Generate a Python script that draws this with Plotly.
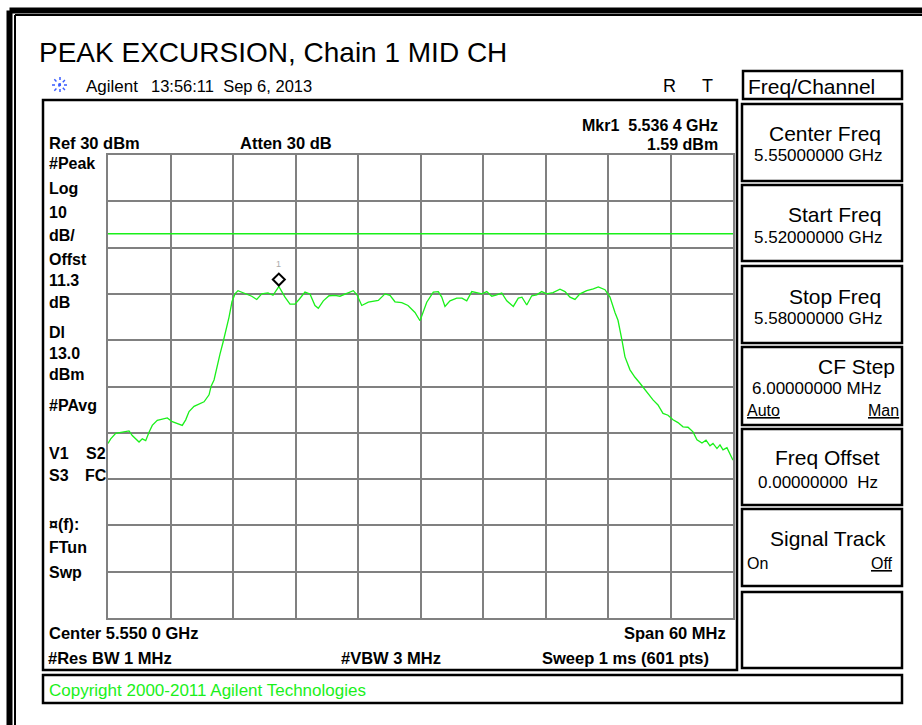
import plotly.graph_objects as go

# ---- analyser settings -------------------------------------------------
CENTER_GHZ = 5.550
SPAN_MHZ = 60
REF_LEVEL_DBM = 30
SCALE_DB_DIV = 10
N_DIV = 10
DISPLAY_LINE_DBM = 13.0
OFFSET_DB = 11.3
MARKER_FREQ_GHZ = 5.5364
MARKER_LEVEL_DBM = 1.59

# ---- measured trace (peak detector) -------------------------------------
freq_ghz = [
    5.52000, 5.52026, 5.52074, 5.52115, 5.52170, 5.52202, 5.52233, 5.52266, 5.52298, 5.52329,
    5.52362, 5.52394, 5.52425, 5.52473, 5.52521, 5.52569, 5.52617, 5.52665, 5.52713, 5.52746,
    5.52778, 5.52826, 5.52874, 5.52922, 5.52970, 5.52989, 5.53018, 5.53046, 5.53075, 5.53104,
    5.53133, 5.53162, 5.53190, 5.53219, 5.53248, 5.53315, 5.53380, 5.53428, 5.53476, 5.53536,
    5.53584, 5.53640, 5.53699, 5.53747, 5.53795, 5.53834, 5.53891, 5.53939, 5.53987, 5.54019,
    5.54067, 5.54122, 5.54179, 5.54227, 5.54275, 5.54323, 5.54355, 5.54390, 5.54436, 5.54499,
    5.54544, 5.54595, 5.54659, 5.54707, 5.54755, 5.54820, 5.54880, 5.54947, 5.54995, 5.55060,
    5.55123, 5.55171, 5.55204, 5.55235, 5.55283, 5.55348, 5.55398, 5.55444, 5.55492, 5.55543,
    5.55590, 5.55636, 5.55684, 5.55732, 5.55780, 5.55828, 5.55891, 5.55939, 5.55974, 5.56020,
    5.56068, 5.56116, 5.56163, 5.56211, 5.56272, 5.56339, 5.56387, 5.56435, 5.56483, 5.56531,
    5.56596, 5.56659, 5.56707, 5.56771, 5.56819, 5.56867, 5.56896, 5.56934, 5.56963, 5.57011,
    5.57059, 5.57107, 5.57165, 5.57232, 5.57280, 5.57328, 5.57376, 5.57424, 5.57472, 5.57520,
    5.57568, 5.57616, 5.57654, 5.57702, 5.57741, 5.57779, 5.57808, 5.57846, 5.57875, 5.57904,
    5.57942, 5.57971, 5.58000,
]
level_dbm = [
    -32.3, -31.3, -30.1, -29.9, -29.8, -29.6, -30.6, -31.3, -32.0, -31.3,
    -31.7, -29.9, -28.4, -27.3, -27.0, -26.8, -27.6, -28.0, -28.4, -27.2,
    -25.4, -24.3, -23.8, -23.3, -21.8, -20.0, -18.6, -15.5, -13.0, -10.5,
    -8.0, -5.0, -1.7, 0.0, 0.7, 0.0, -0.5, -1.2, 0.0, 0.2,
    -0.3, 1.59, -0.7, -2.2, -2.2, -1.2, 0.4, 0.0, -2.5, -3.1,
    -1.5, -0.4, -0.3, -0.5, 0.0, 0.5, 0.7, -0.2, -2.5, -1.8,
    -1.6, -1.4, 0.0, -0.3, -1.7, -1.9, -2.5, -4.0, -5.8, -1.8,
    0.4, 0.5, -0.7, -2.7, -1.5, -0.9, -0.9, -1.5, 0.5, 0.3,
    0.0, 0.5, -0.5, -0.2, 0.2, -1.5, -2.7, -0.9, -0.7, -2.4,
    -0.4, -0.2, 0.5, 0.0, 0.3, 1.0, 0.5, -0.7, -1.2, 0.0,
    0.7, 1.1, 1.5, 0.9, -0.7, -4.0, -5.7, -10.0, -13.6, -16.4,
    -18.0, -19.3, -21.0, -22.9, -24.0, -25.8, -26.2, -27.2, -27.8, -28.7,
    -28.8, -29.8, -31.5, -32.2, -31.6, -32.8, -32.3, -33.4, -32.6, -33.7,
    -33.2, -34.6, -35.9,
]

# ---- annotation texts ---------------------------------------------------
left_column = ["#Peak", "Log", f"{SCALE_DB_DIV}", "dB/", "Offst", f"{OFFSET_DB:.1f}", "dB",
               "Dl", f"{DISPLAY_LINE_DBM:.1f}", "dBm", "#PAvg", "V1", "S3", "¤(f):", "FTun", "Swp"]
softkey_titles = ["Center Freq", "Start Freq", "Stop Freq", "CF Step", "Freq Offset", "Signal Track", ""]
softkey_values = ["5.55000000 GHz", "5.52000000 GHz", "5.58000000 GHz", "6.00000000 MHz",
                  "0.00000000  Hz", "", ""]

W, H = 922, 725
FONT = "Liberation Sans, Arial, sans-serif"
GREEN = "#1af01a"
GRID = "#808080"


def px(x):
    return x / W


def py(y):
    return 1 - y / H


start_ghz = CENTER_GHZ - SPAN_MHZ / 2000
stop_ghz = CENTER_GHZ + SPAN_MHZ / 2000
bottom_dbm = REF_LEVEL_DBM - N_DIV * SCALE_DB_DIV

fig = go.Figure()
fig.add_trace(go.Scatter(
    x=freq_ghz, y=level_dbm, mode="lines",
    line=dict(color=GREEN, width=1.3), hoverinfo="skip", showlegend=False,
))

shapes = []
annotations = []


def rect(x0, y0, x1, y1, width=2.5, color="black"):
    shapes.append(dict(type="rect", xref="paper", yref="paper",
                       x0=px(x0), x1=px(x1), y0=py(y0), y1=py(y1),
                       line=dict(color=color, width=width), fillcolor="rgba(0,0,0,0)"))


def line(x0, y0, x1, y1, width=2, color="black", dash="solid"):
    shapes.append(dict(type="line", xref="paper", yref="paper",
                       x0=px(x0), x1=px(x1), y0=py(y0), y1=py(y1),
                       line=dict(color=color, width=width, dash=dash)))


def text(t, x, y, size=16, bold=False, anchor="left", color="black"):
    annotations.append(dict(text=f"<b>{t}</b>" if bold else t, xref="paper", yref="paper",
                            x=px(x), y=py(y), xanchor=anchor, yanchor="middle",
                            showarrow=False, borderpad=0,
                            font=dict(family=FONT, size=size, color=color)))


# outer page frame (double line, cut off at right and bottom)
line(9.5, 10.5, 9.5, 725, width=6)
line(9.5, 10.5, 922, 10.5, width=6)
line(15, 15, 15, 725, width=2)
line(15, 15, 922, 15, width=2)

# title and instrument header
text("PEAK EXCURSION, Chain 1 MID CH", 38, 52, size=28)
text("Agilent", 85, 86, size=17)
text("13:56:11  Sep 6, 2013", 150, 86, size=16.5)
text("R", 669, 86, size=18, anchor="center")
text("T", 707, 86, size=18, anchor="center")

# Agilent starburst logo
cx, cy, r = 60, 85, 8
for dx, dy in [(1, 0), (0, 1), (0.71, 0.71), (0.71, -0.71)]:
    line(cx - r * dx, cy - r * dy, cx + r * dx, cy + r * dy, width=1.5, color="#3a5cff", dash="dot")

# display frame
rect(43, 100, 737, 670, width=2.5)

# header readouts
mk = f"{MARKER_FREQ_GHZ:.4f}"
text(f"Ref {REF_LEVEL_DBM} dBm", 48, 143, size=16.5, bold=True)
text("Atten 30 dB", 239, 143, size=16.5, bold=True)
text(f"Mkr1  {mk[:-1]} {mk[-1]} GHz", 719, 126, size=16, bold=True, anchor="right")
text(f"{MARKER_LEVEL_DBM:.2f} dBm", 719, 145, size=16, bold=True, anchor="right")

# left annotation column
left_y = [164, 188, 212, 235, 259, 281, 302, 332, 353, 374, 405, 453, 475, 524, 547, 572]
for t, y in zip(left_column, left_y):
    text(t, 48, y, size=16, bold=True)
text("S2", 85, 453, size=16, bold=True)
text("FC", 84, 475, size=16, bold=True)

# bottom readouts
text(f"Center {CENTER_GHZ:.3f} 0 GHz", 48, 633, size=16.5, bold=True)
text(f"Span {SPAN_MHZ} MHz", 727, 633, size=16.5, bold=True, anchor="right")
text("#Res BW 1 MHz", 47, 658, size=16.5, bold=True)
text("#VBW 3 MHz", 391, 658, size=16.5, bold=True, anchor="center")
text("Sweep 1 ms (601 pts)", 710, 658, size=16.5, bold=True, anchor="right")

# copyright bar
rect(43, 675, 902, 703, width=2.5)
text("Copyright 2000-2011 Agilent Technologies", 48, 690, size=17, color=GREEN)

# softkey panel
rect(743, 71, 902, 99, width=2.5)
text("Freq/Channel", 747, 86, size=21)
key_tops = [104, 185, 266, 347, 429, 509, 592]
key_bots = [181, 261, 343, 425, 505, 586, 668]
title_right = [882, 882, 882, 896, 881, 887, 882]
title_dy = [29, 30, 30, 19, 29, 29, 29]
value_left = [753, 753, 753, 751, 757, 753, 753]
value_dy = [51, 52, 52, 41, 53, 53, 53]
for i, (title, value) in enumerate(zip(softkey_titles, softkey_values)):
    rect(742, key_tops[i], 902, key_bots[i], width=2.5)
    if title:
        text(title, title_right[i], key_tops[i] + title_dy[i], size=21, anchor="right")
    if value:
        text(value, value_left[i], key_tops[i] + value_dy[i], size=17)
text("<u>Auto</u>", 746, 411, size=16)
text("<u>Man</u>", 900, 411, size=16, anchor="right")
text("On", 746, 563, size=16)
text("<u>Off</u>", 894, 563, size=16, anchor="right")

# display line
shapes.append(dict(type="line", xref="x domain", yref="y", x0=0, x1=1,
                   y0=DISPLAY_LINE_DBM, y1=DISPLAY_LINE_DBM,
                   line=dict(color=GREEN, width=1.5), layer="above"))

# marker 1: diamond sitting on the peak, with its number above
shapes.append(dict(type="path", xref="x", yref="y", xsizemode="pixel", ysizemode="pixel",
                   xanchor=MARKER_FREQ_GHZ, yanchor=MARKER_LEVEL_DBM,
                   path="M0,1 L6,7 L0,13 L-6,7 Z",
                   line=dict(color="black", width=2), fillcolor="rgba(255,255,255,0)",
                   layer="above"))
annotations.append(dict(text="1", x=MARKER_FREQ_GHZ, y=MARKER_LEVEL_DBM, xref="x", yref="y",
                        showarrow=False, yshift=23, font=dict(family=FONT, size=9, color="#aaaaaa")))

fig.update_layout(
    width=W, height=H, autosize=False,
    margin=dict(l=0, r=0, t=0, b=0),
    paper_bgcolor="white", plot_bgcolor="white",
    showlegend=False,
    shapes=shapes, annotations=annotations,
    xaxis=dict(domain=[px(108), px(733)], range=[start_ghz, stop_ghz],
               tick0=start_ghz, dtick=SPAN_MHZ / 1000 / N_DIV,
               showgrid=True, gridcolor=GRID, gridwidth=2,
               showline=True, linecolor=GRID, linewidth=2, mirror=True,
               showticklabels=False, ticks="", zeroline=False, fixedrange=True),
    yaxis=dict(domain=[py(618), py(155)], range=[bottom_dbm, REF_LEVEL_DBM],
               tick0=bottom_dbm, dtick=SCALE_DB_DIV,
               showgrid=True, gridcolor=GRID, gridwidth=2,
               showline=True, linecolor=GRID, linewidth=2, mirror=True,
               showticklabels=False, ticks="", zeroline=False, fixedrange=True),
)

fig.write_html("out.html")
